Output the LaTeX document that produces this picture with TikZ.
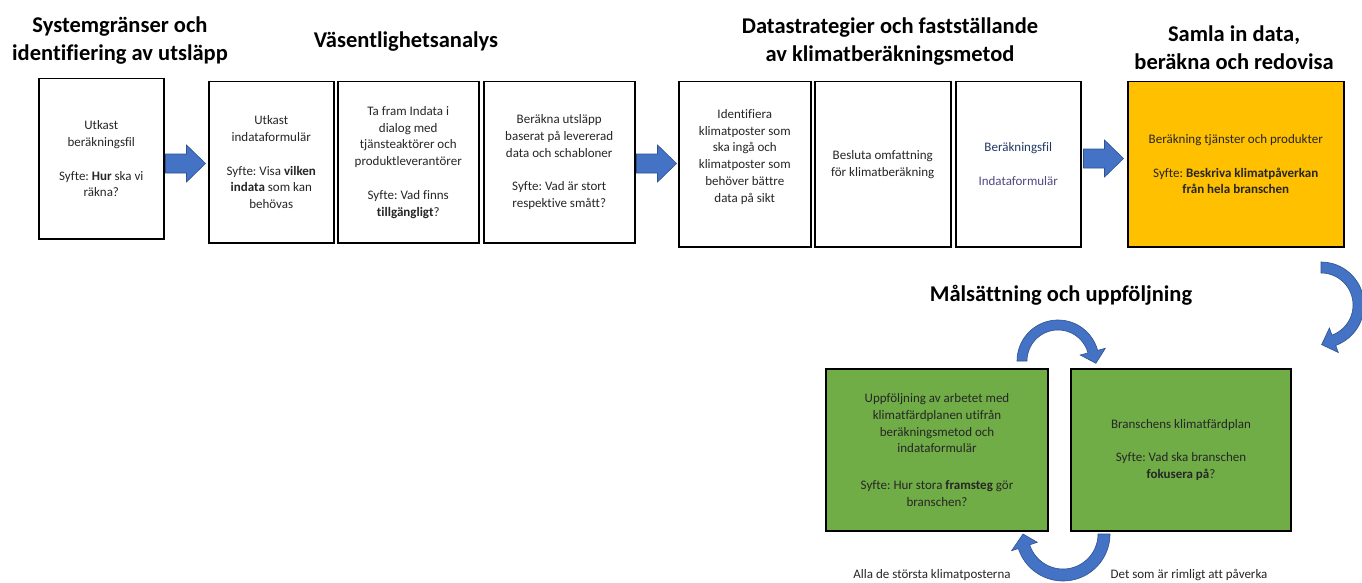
\documentclass[tikz,border=0pt]{standalone}
\usepackage{fontspec}
\setmainfont{Carlito}[Ligatures={NoCommon}]
\usetikzlibrary{calc}
\definecolor{arrowblue}{HTML}{4472C4}
\definecolor{arrowedge}{HTML}{2F528F}
\definecolor{yellowbox}{HTML}{FFC000}
\definecolor{greenbox}{HTML}{70AD47}
\definecolor{txt}{HTML}{262626}
\definecolor{navytxt}{HTML}{203864}
\definecolor{purpletxt}{HTML}{4F4A80}
\frenchspacing
\begin{document}
\begin{tikzpicture}[x=1pt,y=-1pt,
  plainbox/.style={draw=black, line width=1.5pt, anchor=north west, inner sep=2pt,
    align=center, text=txt, font=\fontsize{13}{16.8}\selectfont},
  headline/.style={font=\bfseries\fontsize{22.5}{28}\selectfont, align=center, text=black},
  curvearrow/.style={fill=arrowblue, draw=arrowedge, line width=0.6pt},
  sidelabel/.style={font=\fontsize{13}{16}\selectfont, text=txt},
  pics/blockarrow/.style={code={
    \fill[arrowblue, draw=arrowedge, line width=0.6pt]
      (-20,-9.5) -- (1,-9.5) -- (1,-18.5) -- (20,0) -- (1,18.5) -- (1,9.5) -- (-20,9.5) -- cycle;}}
]
\useasboundingbox (0,0) rectangle (1362,583);
\fill[white] (0,0) rectangle (1362,583);
\clip (0,0) rectangle (1362,583);

% titles
\node[headline] (t1) at (120,41) {Systemgränser och\\identifiering av utsläpp};
\node[headline] (t2) at (406,42) {Väsentlighetsanalys};
\node[headline] (t3) at (890,42) {Datastrategier och fastställande\\av klimatberäkningsmetod};
\node[headline] (t4) at (1234,48) {Samla in data,\\beräkna och redovisa};
\node[headline] (t5) at (1061,295) {Målsättning och uppföljning};

% top row boxes
\node[plainbox, minimum width=125pt, minimum height=160pt] (b1) at (38,78)
  {Utkast\\beräkningsfil\\[16.8pt]Syfte: \textbf{Hur} ska vi\\räkna?};
\node[plainbox, minimum width=125pt, minimum height=161pt] (b2) at (208,81)
  {Utkast\\indataformulär\\[16.8pt]Syfte: Visa \textbf{vilken}\\\textbf{indata} som kan\\behövas};
\node[plainbox, minimum width=141pt, minimum height=161pt] (b3) at (337,81)
  {Ta fram Indata i\\dialog med\\tjänsteaktörer och\\produktleverantörer\\[16.8pt]Syfte: Vad finns\\\textbf{tillgängligt}?};
\node[plainbox, minimum width=151pt, minimum height=161pt] (b4) at (483,81)
  {Beräkna utsläpp\\baserat på levererad\\data och schabloner\\[16.8pt]Syfte: Vad är stort\\respektive smått?};
\node[plainbox, minimum width=132pt, minimum height=165pt] (b5) at (678,81)
  {Identifiera\\klimatposter som\\ska ingå och\\klimatposter som\\behöver bättre\\data på sikt\\\mbox{}};
\node[plainbox, minimum width=136pt, minimum height=165pt] (b6) at (814,81)
  {Besluta omfattning\\för klimatberäkning};
\node[plainbox, minimum width=125pt, minimum height=165pt] (b7) at (955,81)
  {\textcolor{navytxt}{Beräkningsfil}\\[16.8pt]\textcolor{purpletxt}{Indataformulär}};
\node[plainbox, fill=yellowbox, minimum width=216pt, minimum height=165pt] (b8) at (1127,81)
  {Beräkning tjänster och produkter\\[16.8pt]Syfte: \textbf{Beskriva klimatpåverkan}\\\textbf{från hela branschen}};

% green boxes
\node[plainbox, fill=greenbox, line width=2pt, minimum width=222pt, minimum height=162pt] (g1) at (825,368)
  {Uppföljning av arbetet med\\klimatfärdplanen utifrån\\beräkningsmetod och\\indataformulär\\[20pt]Syfte: Hur stora \textbf{framsteg} gör\\branschen?};
\node[plainbox, fill=greenbox, line width=2pt, minimum width=220pt, minimum height=162pt] (g2) at (1070,368)
  {Branschens klimatfärdplan\\[16.8pt]Syfte: Vad ska branschen\\\textbf{fokusera på}?};

% block arrows between boxes
\coordinate (a1) at (185.5,163.5);
\coordinate (a2) at (656.5,163.5);
\coordinate (a3) at (1103.5,158.5);
\pic at (a1) {blockarrow};
\pic at (a2) {blockarrow};
\pic at (a3) {blockarrow};

% curved arrow from yellow box down to target section
\fill[curvearrow] plot[domain=270:430, samples=50] ({1321+43*cos(\x)},{305+43*sin(\x)})
  -- (1338.3,352.5) -- (1321.6,344.6) -- (1329.4,328.0)
  -- plot[domain=430:270, samples=50] ({1321+32*cos(\x)},{305+32*sin(\x)}) -- cycle;

% top loop arrow (g1 -> g2)
\fill[curvearrow] plot[domain=180:345, samples=50] ({1058+41*cos(\x)},{361+41*sin(\x)})
  -- (1105.3,348.3) -- (1095.9,363.3) -- (1080.2,355.0)
  -- plot[domain=345:180, samples=50] ({1058+31*cos(\x)},{361+31*sin(\x)}) -- cycle;

% bottom loop arrow (g2 -> g1)
\fill[curvearrow] plot[domain=0:162, samples=50] ({1063+47*cos(\x)},{534+47*sin(\x)})
  -- (1011.6,550.7) -- (1023,534) -- (1037.3,542.3)
  -- plot[domain=162:0, samples=50] ({1063+35*cos(\x)},{534+35*sin(\x)}) -- cycle;

% bottom labels
\node[sidelabel] (l1) at (932,575) {Alla de största klimatposterna};
\node[sidelabel] (l2) at (1189,575) {Det som är rimligt att påverka};
\end{tikzpicture}
\end{document}
